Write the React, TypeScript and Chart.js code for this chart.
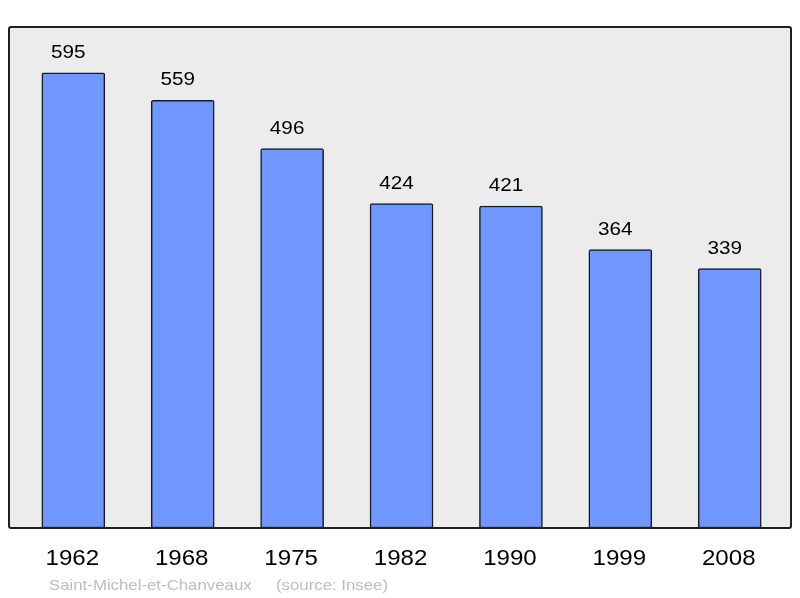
import { useEffect, useRef } from "react"
import { Chart, registerables } from "chart.js"

Chart.register(...registerables)

const years = ["1962", "1968", "1975", "1982", "1990", "1999", "2008"]
const population = [595, 559, 496, 424, 421, 364, 339]
const townName = "Saint-Michel-et-Chanveaux"
const sourceNote = "(source: Insee)"

const FONT = '"Liberation Sans", Arial, sans-serif'
const STRETCH = 1.12

function stretchedText(ctx: CanvasRenderingContext2D, text: string, x: number, y: number, align: CanvasTextAlign) {
  ctx.save()
  ctx.translate(x, y)
  ctx.scale(STRETCH, 1)
  ctx.textAlign = align
  ctx.fillText(text, 0, 0)
  ctx.restore()
}

const framePlugin = {
  id: "frame",
  beforeDraw(chart: Chart) {
    const { ctx, chartArea } = chart
    ctx.save()
    ctx.fillStyle = "#ececec"
    ctx.fillRect(chartArea.left, chartArea.top, chartArea.right - chartArea.left, chartArea.bottom - chartArea.top)
    ctx.restore()
  },
  afterDatasetsDraw(chart: Chart) {
    const { ctx, chartArea } = chart
    const xs = chart.scales.x
    const ys = chart.scales.y
    ctx.save()
    // frame
    ctx.strokeStyle = "#1f1f1f"
    ctx.lineWidth = 2
    ctx.beginPath()
    ctx.roundRect(chartArea.left, chartArea.top, chartArea.right - chartArea.left, chartArea.bottom - chartArea.top, 2)
    ctx.stroke()

    // value labels
    ctx.fillStyle = "#000"
    ctx.textBaseline = "alphabetic"
    ctx.font = `18.5px ${FONT}`
    population.forEach((v, i) => {
      stretchedText(ctx, String(v), xs.getPixelForValue(i) - 5, ys.getPixelForValue(v) - 15, "center")
    })

    // category labels
    ctx.font = `21.5px ${FONT}`
    years.forEach((y, i) => {
      stretchedText(ctx, y, xs.getPixelForValue(i) - 1, 565, "center")
    })

    // footer
    ctx.fillStyle = "#bdbdbd"
    ctx.font = `15px ${FONT}`
    stretchedText(ctx, townName, 49, 590, "left")
    stretchedText(ctx, sourceNote, 276, 590, "left")
    ctx.restore()
  },
}

export default function App() {
  const chartRef = useRef<HTMLCanvasElement>(null)
  const chartInstance = useRef<Chart | null>(null)

  useEffect(() => {
    document.body.style.margin = "0"
    if (!chartRef.current) return
    if (chartInstance.current) chartInstance.current.destroy()

    const ctx = chartRef.current.getContext("2d")
    if (ctx) {
      chartInstance.current = new Chart(ctx, {
        type: "bar",
        data: {
          datasets: [
            {
              label: "Population",
              data: population.map((v, i) => ({ x: i, y: v })),
              backgroundColor: "#7097ff",
              borderColor: "#1a1a1a",
              borderWidth: 1.5,
              borderRadius: 2,
              borderSkipped: false,
              barThickness: 63,
            },
          ],
        },
        options: {
          animation: false,
          responsive: false,
          maintainAspectRatio: false,
          devicePixelRatio: 1,
          layout: { padding: { left: 9, right: 9, top: 27, bottom: 70 } },
          plugins: {
            legend: { display: false },
            tooltip: { enabled: false },
          },
          scales: {
            x: { type: "linear", min: -0.588, max: 6.56, offset: false, grid: { offset: false }, display: false },
            y: { min: 0, max: 655, display: false },
          },
        },
        plugins: [framePlugin],
      })
    }

    return () => {
      if (chartInstance.current) {
        chartInstance.current.destroy()
        chartInstance.current = null
      }
    }
  }, [])

  return (
    <div style={{ width: 800, height: 598, background: "#fff" }}>
      <canvas ref={chartRef} width={800} height={598} />
    </div>
  )
}
